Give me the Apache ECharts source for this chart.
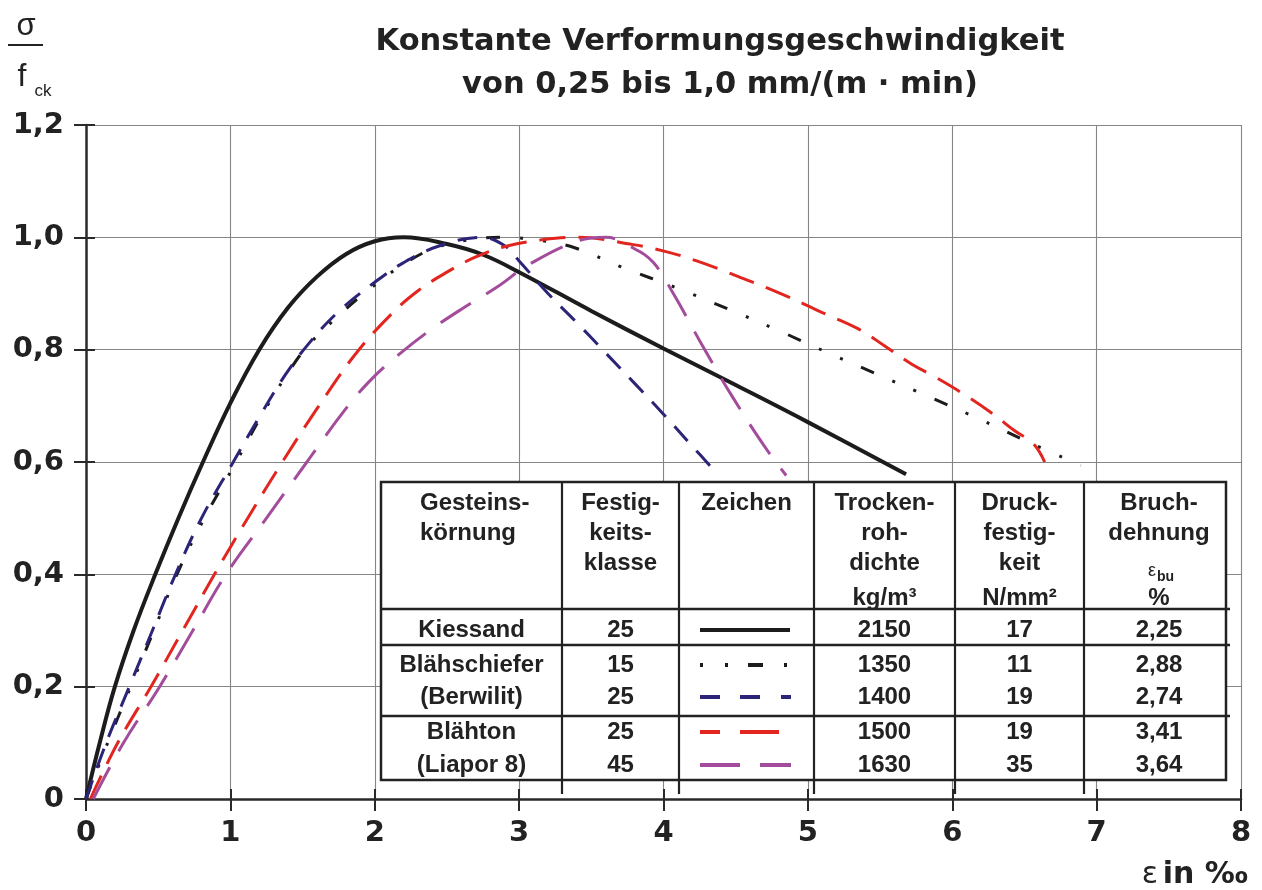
<!DOCTYPE html>
<html>
<head>
<meta charset="utf-8">
<script src="https://cdn.jsdelivr.net/npm/echarts@6/dist/echarts.min.js"></script>
<style>html,body{margin:0;padding:0;background:#fff}#c{width:1262px;height:890px}</style>
</head>
<body>
<div id="c"></div>
<script>
// ---------- data ----------
const titleLines = ["Konstante Verformungsgeschwindigkeit", "von 0,25 bis 1,0 mm/(m · min)"];
const xTickLabels = ["0","1","2","3","4","5","6","7","8"];
const yTickLabels = ["0","0,2","0,4","0,6","0,8","1,0","1,2"];

// Kiessand (solid black)
const kiesX = [0, 0.1, 0.2, 0.33, 0.48, 0.64, 0.81, 1.0, 1.2, 1.4, 1.6, 1.8, 2.0, 2.2, 2.5, 2.75, 3.0, 3.5, 4.0, 4.5, 5.0, 5.68];
const kiesY = [0, 0.105, 0.2, 0.3, 0.4, 0.5, 0.6, 0.705, 0.8, 0.875, 0.93, 0.97, 0.993, 1.0, 0.988, 0.969, 0.938, 0.869, 0.802, 0.737, 0.671, 0.578];
// Blähschiefer 15 (black dash-dot-dot)
const bs15X = [0, 0.15, 0.31, 0.47, 0.63, 0.82, 1.04, 1.21, 1.39, 1.53, 1.76, 1.95, 2.23, 2.45, 2.7, 2.88, 3.16, 3.39, 3.71, 4.1, 4.45, 4.78, 5.16, 5.5, 5.84, 6.21, 6.54, 6.89];
const bs15Y = [0, 0.1, 0.2, 0.3, 0.4, 0.5, 0.6, 0.68, 0.755, 0.805, 0.863, 0.905, 0.957, 0.984, 0.997, 1.0, 0.994, 0.981, 0.947, 0.909, 0.872, 0.836, 0.792, 0.754, 0.716, 0.674, 0.634, 0.594];
// Berwilit 25 (blue dashed)
const bw25X = [0, 0.14, 0.3, 0.46, 0.62, 0.8, 1.02, 1.2, 1.38, 1.55, 1.75, 2.0, 2.2, 2.45, 2.74, 2.9, 3.0, 3.2, 3.4, 3.6, 3.8, 4.0, 4.2, 4.38];
const bw25Y = [0, 0.1, 0.2, 0.3, 0.4, 0.5, 0.6, 0.68, 0.755, 0.813, 0.868, 0.92, 0.955, 0.985, 1.0, 0.985, 0.958, 0.9, 0.848, 0.794, 0.74, 0.685, 0.628, 0.577];
// Blähton 25 (red dashed)
const bt25X = [0.03, 0.22, 0.45, 0.67, 0.89, 1.12, 1.36, 1.6, 1.86, 2.11, 2.3, 2.5, 2.7, 2.91, 3.17, 3.41, 3.79, 4.01, 4.23, 4.54, 4.82, 5.1, 5.35, 5.53, 5.72, 5.87, 6.06, 6.28, 6.43, 6.56, 6.64];
const bt25Y = [0, 0.1, 0.2, 0.3, 0.4, 0.5, 0.6, 0.695, 0.79, 0.862, 0.905, 0.938, 0.965, 0.984, 0.996, 1.0, 0.987, 0.975, 0.958, 0.928, 0.899, 0.866, 0.837, 0.807, 0.774, 0.753, 0.724, 0.686, 0.656, 0.633, 0.6];
// Liapor 8, 45 (purple long dashes)
const li45X = [0.05, 0.26, 0.51, 0.74, 0.97, 1.25, 1.53, 1.8, 1.98, 2.17, 2.38, 2.6, 2.85, 3.07, 3.4, 3.6, 3.79, 3.93, 4.07, 4.27, 4.48, 4.71, 4.85];
const li45Y = [0, 0.1, 0.2, 0.3, 0.4, 0.5, 0.6, 0.695, 0.748, 0.792, 0.834, 0.872, 0.912, 0.952, 0.993, 1.0, 0.981, 0.955, 0.899, 0.807, 0.715, 0.624, 0.576];

// table content
const tableHeader = [["Gesteins-","körnung"],["Festig-","keits-","klasse"],["Zeichen"],["Trocken-","roh-","dichte"],["Druck-","festig-","keit"],["Bruch-","dehnung"]];
const tableUnits = ["", "", "", "kg/m³", "N/mm²", "%"];
const rowNames = ["Kiessand","Blähschiefer","(Berwilit)","Blähton","(Liapor 8)"];
const strengthClass = ["25","15","25","25","45"];
const dryDensity = ["2150","1350","1400","1500","1630"];
const compStrength = ["17","11","19","19","35"];
const peakStrain = ["2,25","2,88","2,74","3,41","3,64"];

// ---------- styling ----------
const zip = (xs, ys) => xs.map((x, i) => [x, ys[i]]);
const C_BLACK = '#1c1c1c', C_BLUE = '#2b2478', C_RED = '#e2261f', C_PURPLE = '#a34c9c';
const seriesDefs = [
  {name: 'Kiessand 25', data: zip(kiesX, kiesY), color: C_BLACK, width: 4, type: 'solid', sample: [90, 0]},
  {name: 'Blähschiefer 15', data: zip(bs15X, bs15Y), color: C_BLACK, width: 3, type: [14, 20, 3, 20, 3, 20], sample: [3,22,3,20,15,21,3,60]},
  {name: 'Berwilit 25', data: zip(bw25X, bw25Y), color: C_BLUE, width: 3, type: [20, 13], sample: [20,20,20,21,10,60]},
  {name: 'Blähton 25', data: zip(bt25X, bt25Y), color: C_RED, width: 3, type: [26, 13], sample: [20,20,39,60]},
  {name: 'Liapor 8 45', data: zip(li45X, li45Y), color: C_PURPLE, width: 3, type: [36, 18], sample: [40,20,31,60]}
];

const TF = 'Liberation Sans';
const AF = 'DejaVu Sans';
const TXT = '#222';
const g = [];
// title
g.push({type:'text', z:100, style:{x:720, y:42, text:titleLines[0], fill:TXT, fontFamily:AF, fontWeight:'bold', fontSize:30.5, align:'center', verticalAlign:'middle'}});
g.push({type:'text', z:100, style:{x:720, y:85, text:titleLines[1], fill:TXT, fontFamily:AF, fontWeight:'bold', fontSize:30.5, align:'center', verticalAlign:'middle'}});
// y axis name sigma / f_ck
g.push({type:'text', z:100, style:{x:26, y:26, text:'σ', fill:TXT, fontFamily:TF, fontSize:31, align:'center', verticalAlign:'middle'}});
g.push({type:'line', z:100, shape:{x1:8, y1:45, x2:43, y2:45}, style:{stroke:TXT, lineWidth:2}});
g.push({type:'text', z:100, style:{x:22, y:77, text:'f', fill:TXT, fontFamily:TF, fontSize:32, align:'center', verticalAlign:'middle'}});
g.push({type:'text', z:100, style:{x:43, y:91, text:'ck', fill:TXT, fontFamily:TF, fontSize:17, align:'center', verticalAlign:'middle'}});
// x axis name
g.push({type:'text', z:100, style:{x:1158, y:875, text:'ε', fill:TXT, fontFamily:AF, fontSize:30, align:'right', verticalAlign:'middle'}});
g.push({type:'text', z:100, style:{x:1248, y:875, text:'in ‰', fill:TXT, fontFamily:AF, fontWeight:'bold', fontSize:30, align:'right', verticalAlign:'middle'}});

// table
const TL = 381, TR = 1226, TT = 482, TB = 780;
const colX = [TL, 562, 679, 814, 955, 1084, TR];
const rowLines = [609, 645, 716];
const rowY = [630, 665, 697, 732, 765];
const hdrY = [503, 533, 563];
g.push({type:'rect', z:100, shape:{x:TL, y:TT, width:TR-TL, height:TB-TT}, style:{fill:'#fff', stroke:TXT, lineWidth:2.5}});
for (let i = 1; i < colX.length - 1; i++) {
  g.push({type:'line', z:101, shape:{x1:colX[i], y1:TT, x2:colX[i], y2:794}, style:{stroke:TXT, lineWidth:2.2}});
}
rowLines.forEach(y => g.push({type:'line', z:101, shape:{x1:TL, y1:y, x2:TR+4, y2:y}, style:{stroke:TXT, lineWidth:2.5}}));
const colC = i => (colX[i] + colX[i+1]) / 2;
const tfont = {fill:TXT, fontFamily:TF, fontWeight:'bold', fontSize:24, verticalAlign:'middle'};
tableHeader.forEach((lines, i) => {
  lines.forEach((t, j) => {
    if (i === 0) g.push({type:'text', z:102, style:Object.assign({x:420, y:hdrY[j], text:t, align:'left'}, tfont)});
    else g.push({type:'text', z:102, style:Object.assign({x:colC(i) + (i === 5 ? 4 : 0), y:hdrY[j], text:t, align:'center'}, tfont)});
  });
  if (tableUnits[i]) g.push({type:'text', z:102, style:Object.assign({x:colC(i) + (i === 5 ? 4 : 0), y:598, text:tableUnits[i], align:'center'}, tfont)});
});
g.push({type:'text', z:102, style:{x:1156, y:571, text:'ε', fill:TXT, fontFamily:TF, fontSize:18, align:'right', verticalAlign:'middle'}});
g.push({type:'text', z:102, style:{x:1157, y:577, text:'bu', fill:TXT, fontFamily:TF, fontWeight:'bold', fontSize:14, align:'left', verticalAlign:'middle'}});
const cols = [rowNames, strengthClass, null, dryDensity, compStrength, peakStrain];
cols.forEach((arr, i) => {
  if (!arr) return;
  arr.forEach((t, r) => g.push({type:'text', z:102, style:Object.assign({x:colC(i) + (i === 5 ? 4 : 0), y:rowY[r], text:t, align:'center'}, tfont)}));
});
// line samples (Zeichen)
seriesDefs.forEach((s, r) => {
  const len = s.type === 'solid' ? 90 : s.sample.slice(0, -1).reduce((a, b) => a + b, 0);
  g.push({type:'line', z:102, shape:{x1:700, y1:rowY[r], x2:700 + len, y2:rowY[r]},
    style:{stroke:s.color, lineWidth:s.width + (r === 0 ? 0 : 1), lineDash: s.type === 'solid' ? null : s.sample}});
});

const axisColor = '#2a2a2a';
const lblStyle = {fontFamily:AF, fontWeight:'bold', fontSize:29, color:TXT};
const option = {
  backgroundColor: '#fff',
  animation: false,
  grid: {left: 86, right: 21, top: 125, bottom: 91, containLabel: false},
  xAxis: [
    {type:'value', min:0, max:8, interval:1,
     axisLine:{show:true, onZero:false, lineStyle:{color:axisColor, width:2.5}},
     axisTick:{show:true, length:12, lineStyle:{color:axisColor, width:2}},
     axisLabel:Object.assign({margin:20, formatter: v => xTickLabels[Math.round(v)]}, lblStyle),
     splitLine:{show:true, lineStyle:{color:'#858585', width:1.1}}},
    {type:'value', min:0, max:8, interval:1, position:'bottom',
     axisLine:{show:false}, axisTick:{show:true, inside:true, length:10, lineStyle:{color:axisColor, width:2}},
     axisLabel:{show:false}, splitLine:{show:false}}
  ],
  yAxis: [
    {type:'value', min:0, max:1.2, interval:0.2,
     axisLine:{show:true, onZero:false, lineStyle:{color:axisColor, width:2.5}},
     axisTick:{show:true, length:12, lineStyle:{color:axisColor, width:2}},
     axisLabel:Object.assign({margin:22, formatter: v => yTickLabels[Math.round(v / 0.2)]}, lblStyle),
     splitLine:{show:true, lineStyle:{color:'#858585', width:1.1}}},
    {type:'value', min:0, max:1.2, interval:0.2, position:'left',
     axisLine:{show:false}, axisTick:{show:true, inside:true, length:9, lineStyle:{color:axisColor, width:2}},
     axisLabel:{show:false}, splitLine:{show:false}}
  ],
  series: seriesDefs.map((s, i) => ({
    name: s.name, type:'line', xAxisIndex:0, yAxisIndex:0, data:s.data,
    showSymbol:false, symbol:'none', smooth:0.4, z: 5 + i,
    lineStyle:{color:s.color, width:s.width, type:s.type, cap:'butt'}
  })),
  graphic: g
};
const chart = echarts.init(document.getElementById('c'), null, {renderer:'canvas'});
chart.setOption(option);
</script>
</body>
</html>
